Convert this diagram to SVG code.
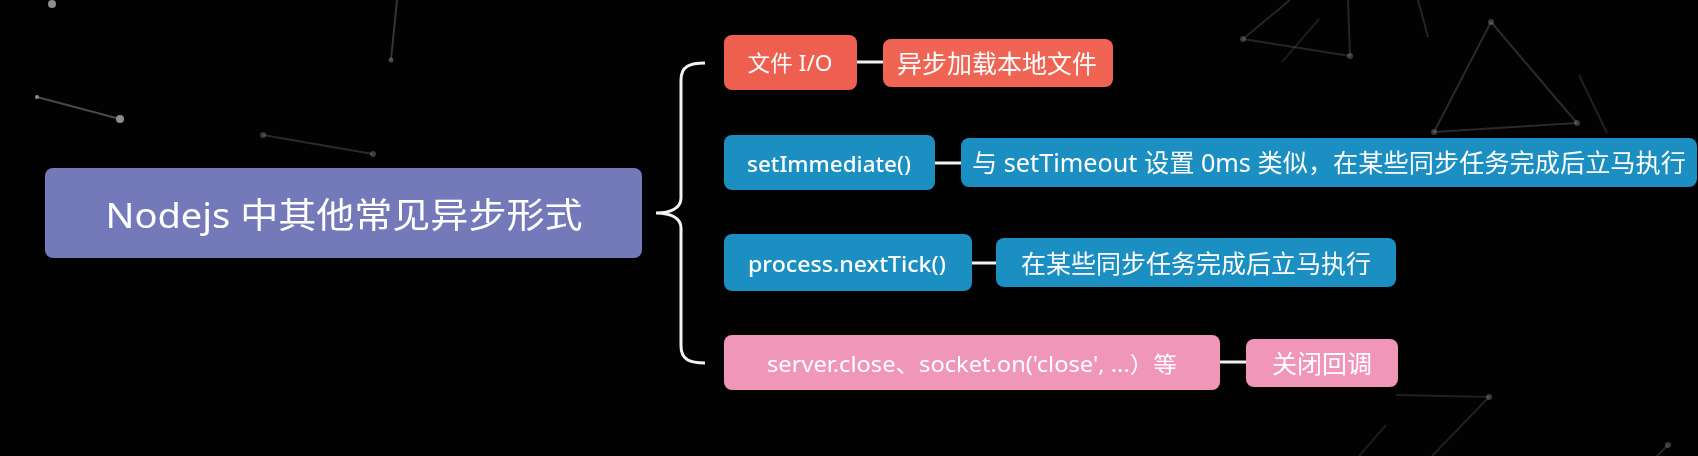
<svg xmlns="http://www.w3.org/2000/svg" width="1698" height="456" viewBox="0 0 1698 456">
  <style>
    .lbl { font-family: "Noto Sans", "Noto Sans CJK SC", sans-serif; fill: #ffffff; dominant-baseline: central; text-anchor: middle; }
    .cjk { font-family: "Noto Sans CJK SC", sans-serif; fill: #ffffff; dominant-baseline: central; text-anchor: middle; }
    .red { fill: #ee5f4f; }
    .blue { fill: #1b8ec2; }
    .pink { fill: #f096b9; }
    .main { fill: #7479ba; }
    .conn { stroke: #f2f2f2; stroke-width: 3; fill: none; }
    .star { stroke: #8a8a8a; stroke-width: 2; fill: none; }
    .dot { fill: #bbbbbb; }
  </style>
  <rect x="0" y="0" width="1698" height="456" fill="#020202"/>
  <g id="background" opacity="0.75">
    <line class="star" x1="37" y1="97" x2="120" y2="119" opacity="0.7"/>
    <circle class="dot" cx="120" cy="119" r="4"/>
    <circle class="dot" cx="37" cy="97" r="2"/>
    <circle class="dot" cx="52" cy="4" r="4"/>
    <line class="star" x1="263" y1="135" x2="373" y2="154" opacity="0.4"/>
    <circle class="dot" cx="263" cy="135" r="3" opacity="0.4"/>
    <circle class="dot" cx="373" cy="154" r="3" opacity="0.4"/>
    <line class="star" x1="397" y1="0" x2="391" y2="60" opacity="0.5"/>
    <circle class="dot" cx="391" cy="60" r="2.5" opacity="0.5"/>
    <line class="star" x1="1290" y1="0" x2="1243" y2="39" opacity="0.35"/>
    <line class="star" x1="1243" y1="39" x2="1350" y2="56" opacity="0.35"/>
    <line class="star" x1="1348" y1="0" x2="1350" y2="56" opacity="0.35"/>
    <line class="star" x1="1319" y1="19" x2="1282" y2="62" opacity="0.25"/>
    <line class="star" x1="1418" y1="0" x2="1428" y2="37" opacity="0.35"/>
    <line class="star" x1="1491" y1="22" x2="1434" y2="132" opacity="0.4"/>
    <line class="star" x1="1491" y1="22" x2="1577" y2="123" opacity="0.4"/>
    <line class="star" x1="1434" y1="132" x2="1577" y2="123" opacity="0.4"/>
    <line class="star" x1="1579" y1="75" x2="1607" y2="133" opacity="0.3"/>
    <circle class="dot" cx="1491" cy="22" r="3" opacity="0.4"/>
    <circle class="dot" cx="1434" cy="132" r="3" opacity="0.4"/>
    <circle class="dot" cx="1577" cy="123" r="3" opacity="0.4"/>
    <circle class="dot" cx="1243" cy="39" r="3" opacity="0.4"/>
    <circle class="dot" cx="1350" cy="56" r="3" opacity="0.4"/>
    <line class="star" x1="1396" y1="395" x2="1489" y2="397" opacity="0.3"/>
    <line class="star" x1="1489" y1="397" x2="1432" y2="456" opacity="0.3"/>
    <line class="star" x1="1386" y1="425" x2="1359" y2="456" opacity="0.25"/>
    <line class="star" x1="1668" y1="445" x2="1657" y2="456" opacity="0.35"/>
    <circle class="dot" cx="1489" cy="397" r="3" opacity="0.4"/>
    <circle class="dot" cx="1668" cy="445" r="3" opacity="0.4"/>
  </g>
  <g id="connectors">
    <path class="conn" d="M705,63 C690,63 681,66 681,80 L681,198 C681,208 671,213 656,213 C671,213 681,218 681,228 L681,346 C681,360 690,363 705,363"/>
    <line class="conn" x1="857" y1="62" x2="883" y2="62"/>
    <line class="conn" x1="935" y1="163" x2="961" y2="163"/>
    <line class="conn" x1="972" y1="263" x2="996" y2="263"/>
    <line class="conn" x1="1220" y1="362" x2="1246" y2="362"/>
  </g>
  <g id="node-main">
    <rect class="main" x="45" y="168" width="597" height="90" rx="8"/>
    <text class="lbl" x="344" y="214" font-size="35" textLength="477" lengthAdjust="spacingAndGlyphs">Nodejs 中其他常见异步形式</text>
  </g>
  <g id="node-fileio">
    <rect class="red" x="724" y="35" width="133" height="55" rx="8"/>
    <text class="lbl" x="790" y="62" font-size="22" textLength="85" lengthAdjust="spacingAndGlyphs">文件 I/O</text>
  </g>
  <g id="node-fileio-desc">
    <rect x="883" y="39" width="230" height="48" rx="8" fill="#f06454"/>
    <text class="cjk" x="997" y="62" font-size="25">异步加载本地文件</text>
  </g>
  <g id="node-setimmediate">
    <rect class="blue" x="724" y="135" width="211" height="55" rx="8"/>
    <text class="lbl" x="829" y="163" font-size="22" font-weight="500" textLength="164" lengthAdjust="spacingAndGlyphs">setImmediate()</text>
  </g>
  <g id="node-setimmediate-desc">
    <rect class="blue" x="961" y="138" width="736" height="49" rx="8"/>
    <text class="lbl" x="1329" y="162" font-size="25" textLength="714" lengthAdjust="spacingAndGlyphs">与 setTimeout 设置 0ms 类似，在某些同步任务完成后立马执行</text>
  </g>
  <g id="node-nexttick">
    <rect class="blue" x="724" y="234" width="248" height="57" rx="8"/>
    <text class="lbl" x="847" y="263" font-size="22" font-weight="500" textLength="198" lengthAdjust="spacingAndGlyphs">process.nextTick()</text>
  </g>
  <g id="node-nexttick-desc">
    <rect class="blue" x="996" y="238" width="400" height="49" rx="8"/>
    <text class="cjk" x="1196" y="262" font-size="25">在某些同步任务完成后立马执行</text>
  </g>
  <g id="node-close">
    <rect class="pink" x="724" y="335" width="496" height="55" rx="8"/>
    <text class="lbl" x="972" y="363" font-size="22" textLength="410" lengthAdjust="spacingAndGlyphs">server.close、socket.on('close', ...）等</text>
  </g>
  <g id="node-close-desc">
    <rect class="pink" x="1246" y="339" width="152" height="48" rx="8"/>
    <text class="cjk" x="1322" y="362" font-size="25">关闭回调</text>
  </g>
</svg>
